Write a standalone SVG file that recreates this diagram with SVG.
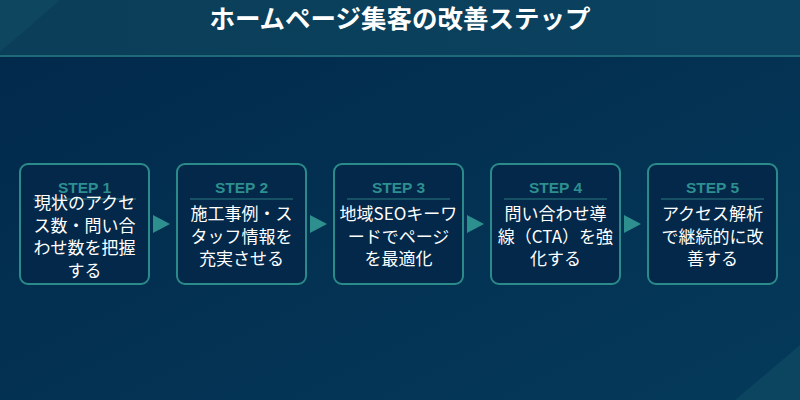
<svg xmlns="http://www.w3.org/2000/svg" width="800" height="400" viewBox="0 0 800 400">
<defs>
<linearGradient id="bg" x1="0" y1="0" x2="1" y2="1">
<stop offset="0" stop-color="#01284a"/>
<stop offset="1" stop-color="#053a5a"/>
</linearGradient>
<linearGradient id="hd" x1="0" y1="0" x2="1" y2="0">
<stop offset="0" stop-color="#0b3e58"/>
<stop offset="1" stop-color="#0a4260"/>
</linearGradient>
<style>
.box{fill:#03284a;stroke:#2b8a8a;stroke-width:2}
.step{font-family:"Liberation Sans","Noto Sans CJK JP",sans-serif;font-weight:bold;font-size:15.5px;fill:#2e8f8f;text-anchor:middle}
.txt{font-family:"Noto Sans CJK JP",sans-serif;font-size:17px;fill:#ffffff;text-anchor:middle}
.div{stroke:#1f5f70;stroke-width:1.5}
.arr{fill:#2e8f8f}
.title{font-family:"Noto Sans CJK JP",sans-serif;font-weight:bold;font-size:25.5px;fill:#ffffff;text-anchor:middle}
</style>
</defs>
<rect width="800" height="400" fill="url(#bg)"/>
<rect width="800" height="56" fill="url(#hd)"/>
<polygon points="0,0 60,0 0,52" fill="#0f4a64" opacity="0.7"/>
<polygon points="800,345 800,400 735,400" fill="#0b4560"/>
<rect x="0" y="55" width="800" height="2" fill="#1e6a78"/>
<text class="title" x="400" y="28">ホームページ集客の改善ステップ</text>
<g id="connectors">
<polygon class="arr" points="153,215 170,224 153,233"/>
<polygon class="arr" points="310,215 327,224 310,233"/>
<polygon class="arr" points="467,215 484,224 467,233"/>
<polygon class="arr" points="624,215 641,224 624,233"/>
</g>
<g id="step1">
<rect class="box" x="20" y="164" width="129" height="120" rx="8"/>
<text class="step" x="84.5" y="192.5">STEP 1</text>
<line class="div" x1="33" y1="199" x2="136" y2="199"/>
<text class="txt" x="84.5" y="209">現状のアクセ</text>
<text class="txt" x="84.5" y="231.5">ス数・問い合</text>
<text class="txt" x="84.5" y="254">わせ数を把握</text>
<text class="txt" x="84.5" y="276.5">する</text>
</g>
<g id="step2">
<rect class="box" x="177" y="164" width="129" height="120" rx="8"/>
<text class="step" x="241.5" y="192.5">STEP 2</text>
<line class="div" x1="190" y1="199" x2="293" y2="199"/>
<text class="txt" x="241.5" y="220">施工事例・ス</text>
<text class="txt" x="241.5" y="242.5">タッフ情報を</text>
<text class="txt" x="241.5" y="265">充実させる</text>
</g>
<g id="step3">
<rect class="box" x="334" y="164" width="129" height="120" rx="8"/>
<text class="step" x="398.5" y="192.5">STEP 3</text>
<line class="div" x1="347" y1="199" x2="450" y2="199"/>
<text class="txt" x="398.5" y="220">地域SEOキーワ</text>
<text class="txt" x="398.5" y="242.5">ードでページ</text>
<text class="txt" x="398.5" y="265">を最適化</text>
</g>
<g id="step4">
<rect class="box" x="491" y="164" width="129" height="120" rx="8"/>
<text class="step" x="555.5" y="192.5">STEP 4</text>
<line class="div" x1="504" y1="199" x2="607" y2="199"/>
<text class="txt" x="555.5" y="220">問い合わせ導</text>
<text class="txt" x="555.5" y="242.5">線（CTA）を強</text>
<text class="txt" x="555.5" y="265">化する</text>
</g>
<g id="step5">
<rect class="box" x="648" y="164" width="129" height="120" rx="8"/>
<text class="step" x="712.5" y="192.5">STEP 5</text>
<line class="div" x1="661" y1="199" x2="764" y2="199"/>
<text class="txt" x="712.5" y="220">アクセス解析</text>
<text class="txt" x="712.5" y="242.5">で継続的に改</text>
<text class="txt" x="712.5" y="265">善する</text>
</g>
</svg>
